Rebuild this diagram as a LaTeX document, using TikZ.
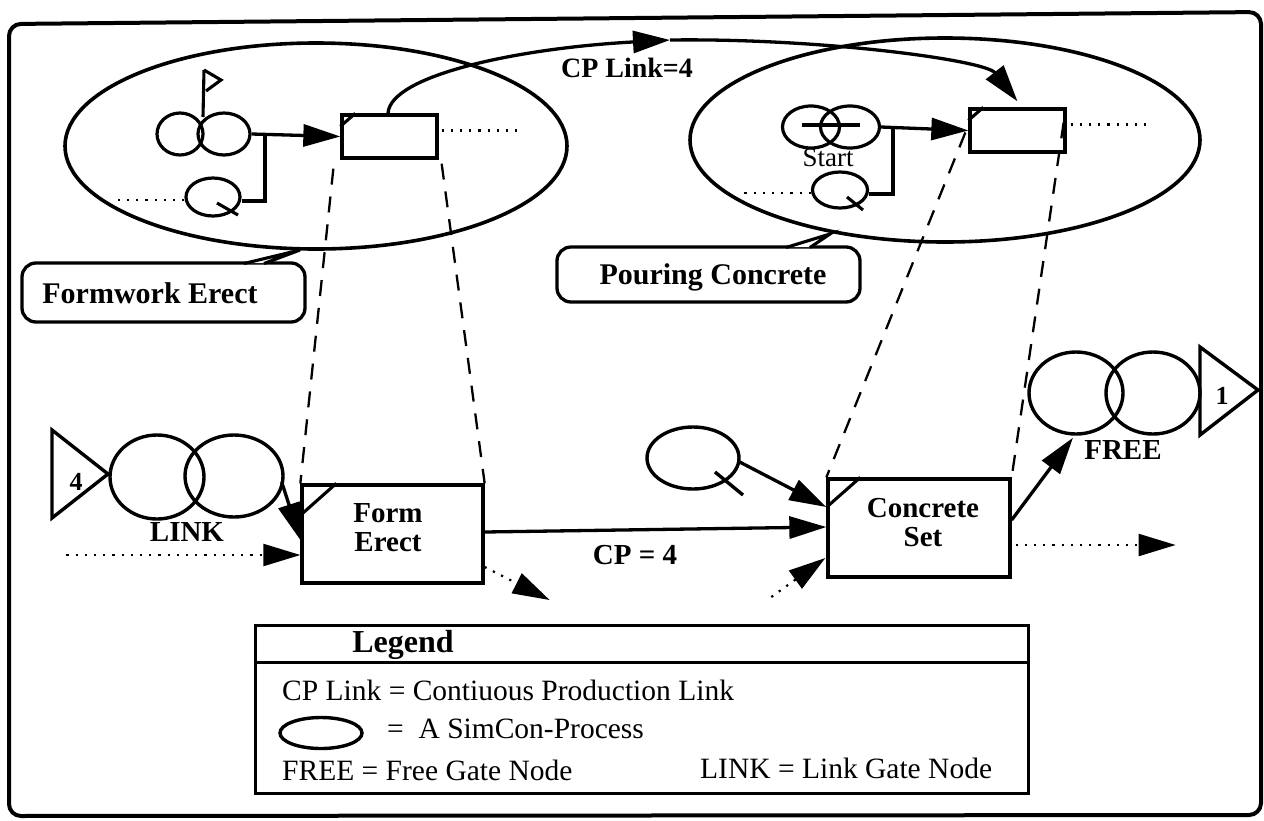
\documentclass[tikz,border=0pt]{standalone}
\usepackage{fontspec}
\setmainfont{Liberation Serif}
\usetikzlibrary{shapes.geometric,arrows.meta,calc}
\begin{document}
\begin{tikzpicture}[x=1pt,y=-1pt,
  outerframe/.style={line width=4pt, rounded corners=12pt},
  proc/.style={ellipse, draw, line width=3.6pt, inner sep=0pt},
  ring/.style={ellipse, draw, line width=3.2pt, inner sep=0pt},
  actbox/.style={rectangle, draw, line width=3.3pt, inner sep=0pt},
  callout/.style={rectangle, draw, line width=3.3pt, rounded corners=14pt, inner sep=0pt},
  lbl/.style={font=\fontsize{29}{32}\selectfont\bfseries, inner sep=0pt, align=center},
  legtext/.style={font=\fontsize{29.5}{32}\selectfont, inner sep=0pt, anchor=west},
  conn/.style={line width=3.3pt, -{Triangle[length=37pt,width=22pt]}},
  plain/.style={line width=3.1pt},
  dotconn/.style={line width=2.2pt, dash pattern=on 2.2pt off 7pt, -{Triangle[length=37pt,width=22pt]}},
  dotline/.style={line width=2.2pt, dash pattern=on 2.2pt off 7pt},
  dashline/.style={line width=2.3pt, dash pattern=on 16pt off 12pt},
]
\useasboundingbox (0,0) rectangle (1264,820);

% outer frame
\draw[outerframe] (9,24) -- (1261,12) -- (1261,815) -- (9,816) -- cycle;

% ---------- process ellipses ----------
\node[proc, minimum width=502, minimum height=206] (ellL) at (316,146) {};
\node[proc, minimum width=510, minimum height=204] (ellR) at (945,140) {};

% ---------- left process internals ----------
\node[actbox, minimum width=95, minimum height=43] (boxL) at (389.5,136.5) {};
\draw[plain] ($(boxL.north west)+(0,13)$) -- ($(boxL.north west)+(15,0)$);
\node[ring, minimum width=46, minimum height=42] (c1) at (180,134) {};
\node[ring, minimum width=52, minimum height=42] (c2) at (224,134) {};
\coordinate (flagtop) at (204,70);
\draw[plain] (203,117) -- (flagtop);
\draw[plain, line join=miter] (flagtop) -- (221,80) -- (206,91);
\draw[conn] (c2.east) -- (boxL.west);
\coordinate (jL) at (265,134);
\node[ring, minimum width=54, minimum height=38] (q1) at (213,197) {};
\draw[plain] (jL) |- ($(q1.east)+(0,4)$);
\draw[plain] ($(q1.center)+(4,6)$) -- ($(q1.center)+(25,18)$);
\draw[dotline] ($(q1.west)+(0,3)$) -- ++(-73,0);
\draw[dotline] ($(boxL.east)+(3,-6)$) -- ++(75,0);

% ---------- right process internals ----------
\node[actbox, minimum width=95, minimum height=43] (boxR) at (1017.5,130.5) {};
\draw[plain] ($(boxR.north west)+(0,13)$) -- ($(boxR.north west)+(15,0)$);
\node[ring, minimum width=57, minimum height=42] (s1) at (811,127) {};
\node[ring, minimum width=59, minimum height=42] (s2) at (850,127) {};
\draw[plain] ($(s1.center)+(-9,-2)$) -- ($(s2.center)+(10,-2)$);
\node[font=\fontsize{27}{30}\selectfont, inner sep=0pt] (start) at (828,158) {Start};
\draw[conn] (s2.east) -- (boxR.west);
\coordinate (jR) at (893,129);
\node[ring, minimum width=55, minimum height=36] (q2) at (840,190) {};
\draw[plain] (jR) |- ($(q2.east)+(0,4)$);
\draw[plain] ($(q2.center)+(7,7)$) -- ($(q2.center)+(23,20)$);
\draw[dotline] ($(q2.west)+(0,3)$) -- ++(-72,0);
\draw[dotline] ($(boxR.east)+(4,-6)$) -- ++(80,0);

% ---------- CP link curve ----------
\coordinate (cpmid) at (670,40);
\draw[conn] ($(boxL.north)+(-1.5,0)$) .. controls (390,75) and (520,48) .. (cpmid);
\draw[conn] (cpmid) .. controls (820,38) and (985,60) .. ($(boxR.north)+(0,-6)$);
\node[lbl, font=\fontsize{28}{30}\selectfont\bfseries] (cplink) at (627,68) {CP Link=4};

% ---------- callouts ----------
\node[callout, minimum width=283, minimum height=59] (callL) at (163.5,292.5) {};
\node[lbl, font=\fontsize{30}{32}\selectfont\bfseries] at (150,293) {Formwork Erect};
\fill[white] (244,263) -- (300,250) -- (264,263) -- cycle;
\draw[plain] (244,263.5) -- (300,250) -- (264,263.5);

\node[callout, minimum width=303, minimum height=55] (callR) at (708.5,274.5) {};
\node[lbl, font=\fontsize{30}{32}\selectfont\bfseries] at (713,277) {Pouring Concrete};
\fill[white] (786,247) -- (830,234) -- (810,247) -- cycle;
\draw[plain] (786,247.5) -- (830,234) -- (810,247.5);

% ---------- lower network ----------
\node[actbox, minimum width=181, minimum height=98] (fe) at (392.5,534) {};
\draw[plain] ($(fe.north west)+(0,32)$) -- ($(fe.north west)+(36,0)$);
\node[lbl] at (388,528) {Form\\[-3pt]Erect};

\node[actbox, minimum width=182, minimum height=98] (cs) at (919,528) {};
\draw[plain] ($(cs.north west)+(0,30)$) -- ($(cs.north west)+(34,0)$);
\node[lbl] at (923,523) {Concrete\\[-3pt]Set};

% mapping dashed lines
\draw[dashline] ($(boxL.south west)+(-7,9)$) -- (fe.north west);
\draw[dashline] ($(boxL.south east)+(3,4)$) -- (fe.north east);
\draw[dashline] ($(boxR.west)+(-3,2)$) -- (cs.north west);
\draw[dashline] ($(boxR.east)+(-3,-8)$) -- (cs.north east);

% LINK gate
\draw[line width=3.4pt, line join=miter] (52,430) -- (108,474) -- (52,518) -- cycle;
\node[lbl, font=\fontsize{26}{28}\selectfont\bfseries] (four) at (76,482) {4};
\node[ring, line width=3.4pt, minimum width=94, minimum height=84] (lc1) at (157,477) {};
\node[ring, line width=3.4pt, minimum width=98, minimum height=82] (lc2) at (234,476) {};
\node[lbl] (linklbl) at (187,532) {LINK};
\draw[conn] ($(lc2.east)+(-3,6)$) -- ($(fe.west)+(0,6)$);
\draw[dotconn] ($(fe.west)+(-234,21)$) -- ($(fe.west)+(0,21)$);

% CP = 4
\draw[conn] ($(fe.east)+(0,-2)$) -- ($(cs.west)+(0,-1)$);
\node[lbl] (cp4) at (635,555) {CP = 4};
\draw[dotconn] ($(fe.east)+(0,33)$) -- ++(65,33);

% queue into Concrete Set
\node[ring, line width=3.4pt, minimum width=92, minimum height=62] (q3) at (693,458) {};
\draw[plain, line width=3.4pt] ($(q3.center)+(22,14)$) -- ($(q3.center)+(50,37)$);
\draw[conn] ($(q3.east)+(-1,4)$) -- ($(cs.west)+(0,-21)$);
\draw[dotconn] ($(cs.west)+(-55,69)$) -- ($(cs.west)+(-1,30)$);

% FREE gate
\node[ring, line width=3.4pt, minimum width=94, minimum height=82] (fc1) at (1076,393) {};
\node[ring, line width=3.4pt, minimum width=94, minimum height=82] (fc2) at (1153,393) {};
\draw[line width=3.4pt, line join=miter] (1200,347) -- (1258,390) -- (1200,435) -- cycle;
\node[lbl, font=\fontsize{26}{28}\selectfont\bfseries] (one) at (1222,396) {1};
\node[lbl] (freelbl) at (1123,450) {FREE};
\draw[conn] ($(cs.east)+(0,-8)$) -- ($(fc1.south)+(-3,2)$);
\draw[dotconn] ($(cs.east)+(4,17)$) -- ++(160,0);

% ---------- legend ----------
\node[rectangle, draw, line width=3pt, minimum width=773, minimum height=168, inner sep=0pt] (leg) at (641.5,709) {};
\draw[line width=2.6pt] ($(leg.north west)+(0,39)$) -- ($(leg.north east)+(0,39)$);
\node[lbl, font=\fontsize{32}{34}\selectfont\bfseries] (legtitle) at (403,645) {Legend};
\node[legtext] (l1) at (282,690) {CP Link = Contiuous Production Link};
\node[ellipse, draw, line width=3.4pt, minimum width=82, minimum height=31, inner sep=0pt] (lell) at (321,733) {};
\node[legtext] (l2) at (387,729) {=\ \ A SimCon-Process};
\node[legtext] (l3) at (282,770) {FREE = Free Gate Node};
\node[legtext] (l4) at (700,768) {LINK = Link Gate Node};
\end{tikzpicture}
\end{document}
